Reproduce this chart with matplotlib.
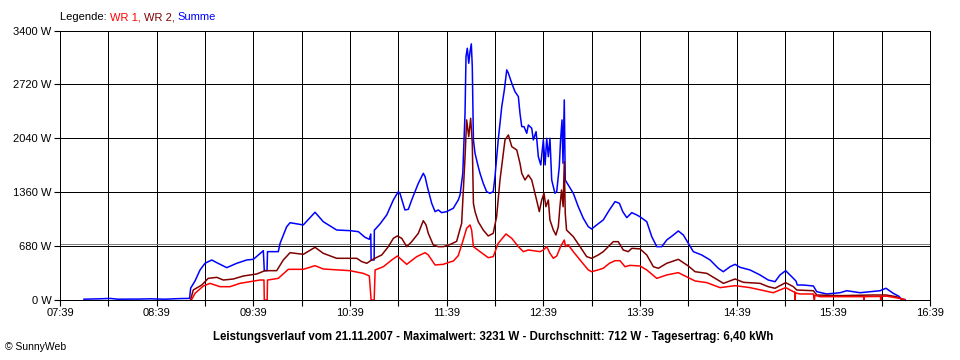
import matplotlib
matplotlib.use("Agg")
import matplotlib.pyplot as plt

# time in minutes since midnight
t_sum = [473.9, 483.8, 490, 495, 508.7, 514.9, 524.2, 533.5, 539.4, 540.1, 542.8, 545.9, 549, 553.2,
         556.3, 562.5, 568.7, 574.9, 579, 585.2, 585.8, 587.5, 587.8, 594.5, 595.6, 599.7, 601.8,
         610, 617.3, 622.4, 630.7, 639, 644.2, 648.3, 651, 651.9, 652.1, 654, 654.1, 657.6, 661.8,
         665.9, 669, 670, 673.1, 675.2, 677.3, 681.4, 684.5, 685.6, 687, 689.7, 691.8, 693.8, 695.9,
         699, 703.1, 706.2, 707.3, 709, 710.4, 711, 711.8, 712.7, 713.5, 714.3, 714.9, 715.6, 716.6,
         718.6, 719.7, 721.7, 723.8, 725.9, 727.9, 729, 731, 733.2, 734.8, 736.3, 737.3, 739.4,
         741.4, 743.5, 744.5, 745.6, 747, 748.7, 749.7, 751.8, 752.8, 754.5, 755.9, 757.4, 759,
         760.1, 761.1, 762.1, 763.1, 764.2, 765.2, 766.2, 767.3, 768.9, 769.7, 770.6, 771.2, 772,
         772.6, 774.5, 777.6, 780.7, 783.8, 786.9, 789, 792.1, 796.2, 800, 803.5, 806.2, 808.3,
         810.8, 813.9, 817, 819, 823.2, 826.3, 829.4, 832.5, 835.6, 839.7, 842.8, 845.9, 849,
         852.1, 857.3, 862.5, 867.6, 870.7, 874.9, 878, 881.1, 887.3, 893.5, 898.6, 902.8, 905.9,
         909.4, 912.1, 914.2, 915.8, 916.6, 920.3, 926.6, 928.7, 934.9, 943.2, 947.3, 955.6, 961.8,
         968, 971.7, 976.2, 979.4, 981.5, 983.5]
summe = [10, 15, 20, 10, 12, 15, 10, 18, 20, 150, 240, 378, 463, 505,
         471, 408, 463, 505, 513, 622, 370, 370, 610, 610, 715, 925, 975,
         947, 1107, 988, 883, 875, 862, 791, 766, 833, 505, 505, 880, 959, 1073,
         1262, 1367, 1346, 1136, 1144, 1262, 1472, 1598, 1556, 1430, 1220, 1115, 1136, 1102,
         1115, 1157, 1262, 1325, 1598, 2356, 3071, 3176, 2987, 3134, 3231, 2945, 2019, 1851,
         1682, 1598, 1472, 1367, 1346, 1367, 1556, 2019, 2440, 2650, 2903, 2861, 2735,
         2629, 2566, 2356, 2187, 2187, 2103, 2208, 2166, 2019, 2124, 1808, 1704, 2019,
         1704, 2040, 1808, 2040, 1514, 1430, 1346, 1367, 1682, 2019, 2272, 1725, 2524,
         1514, 1451, 1346, 1177, 1031, 925, 896, 947, 1010, 1136, 1241, 1220, 1115,
         1039, 1102, 1073, 1050, 988, 799, 673, 673, 757, 820, 871, 820, 715,
         610, 568, 505, 400, 357, 420, 450, 412, 379, 316, 252, 231, 316,
         370, 316, 273, 240, 189, 189, 177, 105, 76, 92, 117, 92, 105,
         117, 148, 84, 50, 8, 5]

t_wr2 = [540.1, 541.7, 547, 551, 556.3, 560.4, 566.6, 572.8, 581.1, 586.2, 593.5, 597.6, 601.8, 610,
         617.3, 622.4, 630.7, 643.2, 646.3, 649.4, 652.5, 655.6, 658.7, 662.8, 665.9, 668.4, 671.1,
         674.2, 677.3, 681.4, 684.5, 686.2, 687.6, 690.7, 693.8, 696.9, 701.1, 705.2, 708.3, 710.4,
         711.4, 712.7, 713.9, 714.9, 715.6, 716.6, 718.6, 721.7, 724.8, 727.9, 730, 732.1, 735.2,
         737.3, 739.4, 742.5, 744.5, 745.6, 747.6, 749.7, 751.8, 753.8, 755.3, 756.5, 758, 759.4,
         760.6, 762.1, 763.1, 765.2, 766.8, 768.3, 769.3, 770.3, 771.3, 772, 772.6, 773.4, 777.6,
         781.8, 785.9, 789, 793.1, 796.2, 802.4, 805.5, 808.6, 811.7, 813.9, 819, 823.2, 827.3,
         830.4, 835.6, 842.8, 849, 853.2, 860.5, 870.8, 878, 883.2, 893.5, 898.6, 902.8, 909.4,
         914.2, 916.3, 926.6, 928.7, 943.2, 963.5, 971.8, 978, 981.1, 983.2]
wr2 = [5, 126, 189, 273, 286, 252, 265, 303, 328, 370, 370, 505, 597, 576,
       665, 589, 526, 526, 484, 463, 505, 538, 568, 673, 778, 808, 778,
       673, 736, 841, 1001, 947, 841, 694, 673, 673, 700, 740, 968, 1808,
       2272, 2061, 2293, 1977, 1220, 1115, 988, 883, 808, 841, 1051, 1514, 2019,
       2082, 1935, 1893, 1725, 1598, 1514, 1577, 1514, 1346, 1220, 1115, 1262, 1346,
       1177, 1262, 1010, 883, 820, 925, 1177, 1388, 1177, 1745, 1094, 883, 799,
       673, 547, 526, 568, 610, 736, 736, 631, 610, 652, 645, 568, 420,
       400, 463, 513, 429, 357, 336, 210, 265, 223, 210, 168, 148, 219,
       168, 126, 117, 63, 55, 63, 63, 42, 13, 5]

t_wr1 = [540.7, 542.8, 548, 552.1, 558.3, 564.5, 570.7, 583.1, 585.6, 585.8, 587.6, 587.8, 594.5,
         600.7, 610, 617.3, 622.4, 639, 644, 647.3, 651, 652.1, 654, 654.6, 659.7, 664.9, 668.4,
         674.2, 680.4, 685.6, 687.6, 691.8, 696.9, 701.1, 703.1, 706.2, 709.3, 711.4, 713.5, 714.5,
         715.6, 719.7, 724.8, 727.9, 731, 735.8, 739.4, 743.5, 746.6, 749.7, 757, 759, 761.1, 763.1,
         765.2, 767.3, 769.7, 772, 772.8, 774.5, 777.6, 781.8, 786.9, 789, 794.2, 796.2, 800, 803.5,
         806.6, 809.7, 812.8, 819, 823.2, 829.4, 835.6, 842.8, 849, 853.2, 860.5, 868.7, 878, 887.3,
         901.7, 909.4, 914.2, 915.2, 915.3, 915.5, 918.3, 926.6, 927.2, 927.3, 927.5, 930.7, 943.2,
         957.9, 958.0, 958.2, 968.3, 968.4, 968.6, 971.8, 980.2, 983.3]
wr1 = [5, 84, 177, 210, 168, 168, 210, 252, 252, 0, 0, 252, 273,
       387, 387, 433, 391, 370, 349, 336, 303, 0, 0, 379, 420, 505, 555,
       450, 547, 597, 568, 442, 450, 480, 490, 560, 760, 905, 947, 883,
       673, 610, 534, 547, 715, 833, 778, 673, 610, 631, 610, 631, 673, 589,
       526, 555, 673, 757, 673, 694, 610, 505, 379, 357, 387, 400, 463, 496,
       496, 420, 437, 429, 379, 273, 316, 345, 282, 240, 219, 156, 181, 156,
       92, 156, 105, 100, 0, 90, 76, 76, 0, 0, 60, 42, 42,
       42, 0, 42, 45, 0, 45, 49, 21, 3]

average = 712
y_ticks = [0, 680, 1360, 2040, 2720, 3400]
hour_labels = ["07:39", "08:39", "09:39", "10:39", "11:39", "12:39", "13:39", "14:39", "15:39", "16:39"]
title = ("Leistungsverlauf vom 21.11.2007 - Maximalwert: 3231 W - Durchschnitt: 712 W"
         " - Tagesertrag: 6,40 kWh")

plt.rcParams['font.family'] = ['Liberation Sans', 'DejaVu Sans']

fig = plt.figure(figsize=(9.6, 3.6), dpi=100)
ax = fig.add_axes([60 / 960, 1 - 300 / 360, 870 / 960, 269.5 / 360])

x0 = 7 * 60 + 39
x1 = 16 * 60 + 39
ax.set_xlim(x0, x1)
ax.set_ylim(0, 3400)

GLW = 0.6
for y in y_ticks:
    ax.axhline(y, color='black', lw=GLW, zorder=1, antialiased=False)
for m in range(x0, x1 + 1, 30):
    ax.axvline(m, color='black', lw=GLW, zorder=1, antialiased=False)
ax.axhline(average, color='#808080', lw=GLW, zorder=1.5, antialiased=False)

ax.plot(t_wr2, wr2, color='#800000', lw=1.1, zorder=3)
ax.plot(t_wr1, wr1, color='#ff0000', lw=1.1, zorder=4)
ax.plot(t_sum, summe, color='#0000ff', lw=1.1, zorder=2.5)

ax.set_yticks(y_ticks)
ax.set_yticklabels([f"{v} W" for v in y_ticks])
xt = list(range(x0, x1 + 1, 30))
ax.set_xticks(xt)
labels = []
for i, m in enumerate(xt):
    labels.append(hour_labels[i // 2] if i % 2 == 0 else "")
ax.set_xticklabels(labels)
ax.tick_params(axis='both', length=4, width=0.8, color='black', labelsize=8, pad=2)
for s in ax.spines.values():
    s.set_linewidth(GLW)
    s.set_color('black')
    s.set_antialiased(False)

# legend
t0 = fig.text(60 / 960, 1 - 17 / 360, "Legende: ", fontsize=8, color='black', va='center')
parts = [("WR 1, ", '#ff0000'), ("WR 2, ", '#800000'), ("Summe", '#0000ff')]
prev = t0
for txt, col in parts:
    prev = ax.annotate(txt, xy=(1, 0), xycoords=prev, va='bottom', ha='left',
                       fontsize=8, color=col, annotation_clip=False)

fig.text(493 / 960, 1 - 337 / 360, title, fontsize=8.3, fontweight='bold', ha='center', va='center')
fig.text(5 / 960, 1 - 347 / 360, "\u00a9 SunnyWeb", fontsize=7.5, ha='left', va='center')

fig.savefig("out.png", dpi=100, facecolor='white')
